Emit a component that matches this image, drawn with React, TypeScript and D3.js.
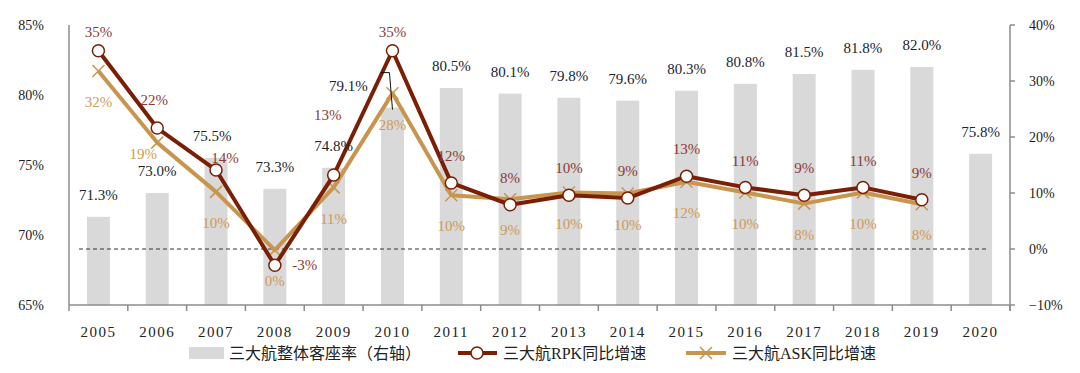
import React, { useEffect, useRef } from 'react';
import * as d3 from 'd3';

const years = ['2005', '2006', '2007', '2008', '2009', '2010', '2011', '2012', '2013', '2014', '2015', '2016', '2017', '2018', '2019', '2020'];
const loadFactor = [71.3, 73.0, 75.5, 73.3, 74.8, 79.1, 80.5, 80.1, 79.8, 79.6, 80.3, 80.8, 81.5, 81.8, 82.0, 75.8];
const rpkGrowth = [35.4, 21.6, 14.1, -2.9, 13.2, 35.4, 11.8, 7.9, 9.6, 9.1, 13.0, 11.0, 9.6, 11.0, 8.8];
const askGrowth = [31.8, 19.0, 10.2, -0.2, 11.0, 27.8, 9.6, 8.9, 10.1, 9.9, 12.0, 10.1, 8.1, 10.1, 8.0];
const rpkLabels = ['35%', '22%', '14%', '-3%', '13%', '35%', '12%', '8%', '10%', '9%', '13%', '11%', '9%', '11%', '9%'];
const askLabels = ['32%', '19%', '10%', '0%', '11%', '28%', '10%', '9%', '10%', '10%', '12%', '10%', '8%', '10%', '8%'];
const leftTicks = [65, 70, 75, 80, 85];
const rightTicks = [-10, 0, 10, 20, 30, 40];
const legendNames = ['三大航整体客座率（右轴）', '三大航RPK同比增速', '三大航ASK同比增速'];

const width = 1080;
const height = 373;
const font = '"Liberation Serif", "Noto Sans CJK SC", serif';

const RPK_COLOR = '#7a1f05';
const ASK_COLOR = '#c8954f';
const BAR_COLOR = '#d9d9d9';

// label nudges for the crowded points
const rpkNudge: Record<number, [number, number]> = { 0: [0, 8], 1: [-3, -1], 2: [9, 15], 3: [30, 27], 4: [-6, -33], 5: [0, 8] };
const askNudge: Record<number, [number, number]> = { 1: [-14, -20] };
const barNudge: Record<number, [number, number]> = { 2: [-4, 0], 5: [-44, 0] };

const App = () => {
	const ref = useRef<SVGSVGElement>(null);

	useEffect(() => {
		if (!ref.current) return;
		const svg = d3.select(ref.current);
		svg.selectAll('*').remove();

		const m = { l: 69, r: 70, t: 25, b: 68 };
		const x = d3.scaleBand().domain(years).range([m.l, width - m.r]);
		const yL = d3.scaleLinear().domain([65, 85]).range([height - m.b, m.t]);
		const yR = d3.scaleLinear().domain([-10, 40]).range([height - m.b, m.t]);
		const cx = (i: number) => (x(years[i]) as number) + x.bandwidth() / 2;
		const bw = 23;

		// bars
		svg.append('g')
			.selectAll('rect')
			.data(loadFactor)
			.join('rect')
			.attr('x', (d, i) => cx(i) - bw / 2)
			.attr('y', d => yL(d))
			.attr('width', bw)
			.attr('height', d => yL(65) - yL(d))
			.attr('fill', BAR_COLOR);

		// zero line
		svg.append('line')
			.attr('x1', m.l + 10)
			.attr('x2', cx(15) + 7)
			.attr('y1', yR(0))
			.attr('y2', yR(0))
			.attr('stroke', '#333')
			.attr('stroke-width', 1)
			.attr('stroke-dasharray', '4,3');

		// axes
		const axisColor = '#8c8c8c';
		const bottom = height - m.b;
		svg.append('line').attr('x1', m.l).attr('x2', width - m.r).attr('y1', bottom).attr('y2', bottom)
			.attr('stroke', axisColor).attr('stroke-width', 1.5);
		svg.append('line').attr('x1', m.l).attr('x2', m.l).attr('y1', m.t).attr('y2', bottom)
			.attr('stroke', axisColor).attr('stroke-width', 1.5);
		svg.append('line').attr('x1', width - m.r).attr('x2', width - m.r).attr('y1', m.t).attr('y2', bottom + 6)
			.attr('stroke', axisColor).attr('stroke-width', 1.5);

		svg.append('g')
			.selectAll('line')
			.data(d3.range(years.length + 1))
			.join('line')
			.attr('x1', i => m.l + i * x.step())
			.attr('x2', i => m.l + i * x.step())
			.attr('y1', bottom)
			.attr('y2', bottom + 6)
			.attr('stroke', axisColor)
			.attr('stroke-width', 1.5);

		svg.append('g')
			.selectAll('line')
			.data(rightTicks)
			.join('line')
			.attr('x1', width - m.r)
			.attr('x2', width - m.r + 5)
			.attr('y1', d => yR(d))
			.attr('y2', d => yR(d))
			.attr('stroke', axisColor)
			.attr('stroke-width', 1.5);

		svg.append('g')
			.selectAll('text')
			.data(leftTicks)
			.join('text')
			.attr('x', 44)
			.attr('y', d => yL(d))
			.attr('dy', '0.35em')
			.attr('text-anchor', 'end')
			.style('font-size', '14px')
			.attr('fill', '#222')
			.text(d => `${d}%`);

		svg.append('g')
			.selectAll('text')
			.data(rightTicks)
			.join('text')
			.attr('x', width - m.r + 19)
			.attr('y', d => yR(d))
			.attr('dy', '0.35em')
			.style('font-size', '14px')
			.attr('fill', '#222')
			.text(d => (d < 0 ? `−${-d}%` : `${d}%`));

		svg.append('g')
			.selectAll('text')
			.data(years)
			.join('text')
			.attr('x', (d, i) => cx(i))
			.attr('y', bottom + 27)
			.attr('dy', '0.35em')
			.attr('text-anchor', 'middle')
			.style('font-size', '15px')
			.style('letter-spacing', '1.5px')
			.attr('fill', '#222')
			.text(d => d);

		// lines
		const line = d3.line<number>().x((d, i) => cx(i)).y(d => yR(d));

		svg.append('path')
			.datum(askGrowth)
			.attr('d', line)
			.attr('fill', 'none')
			.attr('stroke', ASK_COLOR)
			.attr('stroke-width', 4)
			.attr('stroke-linejoin', 'round');

		svg.append('g')
			.selectAll('path')
			.data(askGrowth)
			.join('path')
			.attr('d', (d, i) => {
				const px = cx(i);
				const py = yR(d);
				const s = 6;
				return `M${px - s},${py - s}L${px + s},${py + s}M${px - s},${py + s}L${px + s},${py - s}`;
			})
			.attr('stroke', ASK_COLOR)
			.attr('stroke-width', 1.5);

		svg.append('path')
			.datum(rpkGrowth)
			.attr('d', line)
			.attr('fill', 'none')
			.attr('stroke', RPK_COLOR)
			.attr('stroke-width', 4)
			.attr('stroke-linejoin', 'round');

		svg.append('g')
			.selectAll('circle')
			.data(rpkGrowth)
			.join('circle')
			.attr('cx', (d, i) => cx(i))
			.attr('cy', d => yR(d))
			.attr('r', 6)
			.attr('fill', '#fff')
			.attr('stroke', RPK_COLOR)
			.attr('stroke-width', 1.5);

		// leader line for 2010 bar label
		const lx = cx(5);
		svg.append('path')
			.attr('d', `M${lx - 12},${yL(loadFactor[5]) - 35}H${lx - 3}L${lx},${yL(loadFactor[5]) + 2}`)
			.attr('fill', 'none')
			.attr('stroke', '#111')
			.attr('stroke-width', 1);

		// data labels
		svg.append('g')
			.selectAll('text')
			.data(loadFactor)
			.join('text')
			.attr('x', (d, i) => cx(i) + (barNudge[i] ? barNudge[i][0] : 0))
			.attr('y', d => yL(d) - 22)
			.attr('dy', '0.35em')
			.attr('text-anchor', 'middle')
			.style('font-size', '15px')
			.attr('fill', '#1c2430')
			.text(d => `${d.toFixed(1)}%`);

		svg.append('g')
			.selectAll('text')
			.data(rpkGrowth)
			.join('text')
			.attr('x', (d, i) => cx(i) + (rpkNudge[i] ? rpkNudge[i][0] : 0))
			.attr('y', (d, i) => yR(d) - 27 + (rpkNudge[i] ? rpkNudge[i][1] : 0))
			.attr('dy', '0.35em')
			.attr('text-anchor', 'middle')
			.style('font-size', '15px')
			.attr('fill', '#8a3b36')
			.text((d, i) => rpkLabels[i]);

		svg.append('g')
			.selectAll('text')
			.data(askGrowth)
			.join('text')
			.attr('x', (d, i) => cx(i) + (askNudge[i] ? askNudge[i][0] : 0))
			.attr('y', (d, i) => yR(d) + 31 + (askNudge[i] ? askNudge[i][1] : 0))
			.attr('dy', '0.35em')
			.attr('text-anchor', 'middle')
			.style('font-size', '15px')
			.attr('fill', '#d09a55')
			.text((d, i) => askLabels[i]);

		// legend
		const ly = 353;
		const lg = svg.append('g').style('font-size', '16px').attr('fill', '#222');
		lg.append('rect').attr('x', 189).attr('y', ly - 6).attr('width', 35).attr('height', 12).attr('fill', BAR_COLOR);
		lg.append('text').attr('x', 229).attr('y', ly).attr('dy', '0.35em').text(legendNames[0]);

		lg.append('line').attr('x1', 458).attr('x2', 497).attr('y1', ly).attr('y2', ly)
			.attr('stroke', RPK_COLOR).attr('stroke-width', 4);
		lg.append('circle').attr('cx', 477).attr('cy', ly).attr('r', 6)
			.attr('fill', '#fff').attr('stroke', RPK_COLOR).attr('stroke-width', 1.5);
		lg.append('text').attr('x', 503).attr('y', ly).attr('dy', '0.35em').text(legendNames[1]);

		lg.append('line').attr('x1', 686).attr('x2', 726).attr('y1', ly).attr('y2', ly)
			.attr('stroke', ASK_COLOR).attr('stroke-width', 4);
		lg.append('path').attr('d', `M700,${ly - 6}L712,${ly + 6}M700,${ly + 6}L712,${ly - 6}`)
			.attr('stroke', ASK_COLOR).attr('stroke-width', 1.5);
		lg.append('text').attr('x', 732).attr('y', ly).attr('dy', '0.35em').text(legendNames[2]);
	}, []);

	return (
		<svg
			ref={ref}
			width={width}
			height={height}
			style={{ position: 'absolute', left: 0, top: 0, fontFamily: font, background: '#fff' }}
		/>
	);
};

export default App;
